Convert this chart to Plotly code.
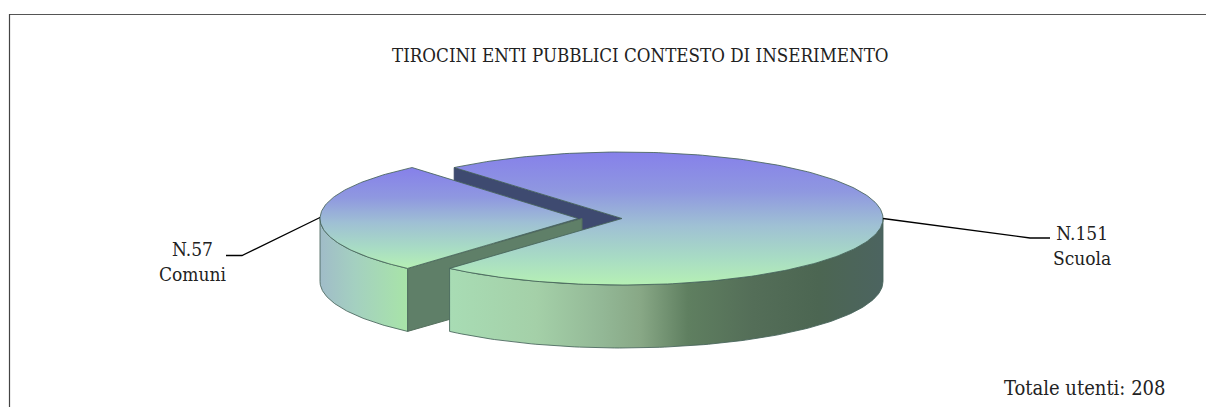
import numpy as np
import plotly.graph_objects as go

title = "TIROCINI ENTI PUBBLICI CONTESTO DI INSERIMENTO"
categories = ["Scuola", "Comuni"]
values = [151, 57]
labels = ["N.151<br>Scuola", "N.57<br>Comuni"]
total_note = "Totale utenti: 208"

W, H = 1206, 407
A, B, DEPTH = 261, 66.5, 63
BIG_C = (622, 218.5)
EXPLODE = 44
SMALL_C = (BIG_C[0] - EXPLODE, BIG_C[1])
START = 130.0  # parametric degrees where the large slice begins

big_sweep = 360 * values[0] / sum(values)
small_sweep = 360 * values[1] / sum(values)
big_a0, big_a1 = START, START - big_sweep
small_a0, small_a1 = START, START + small_sweep

TOP_SCALE = [[0, "#8680ea"], [0.3, "#8f98e0"], [0.55, "#9fc0d4"], [0.8, "#a8dcc4"], [1, "#b6f0b4"]]
BIG_SIDE = [[0, "#a8dcb4"], [0.2, "#a4d0a8"], [0.35, "#93b896"], [0.44, "#88a886"],
            [0.55, "#5f7f60"], [0.7, "#546e58"], [0.85, "#4c6652"], [1, "#4c6460"]]
SMALL_SIDE = [[0, "#a0bcc8"], [0.4, "#a4d0c0"], [1, "#a8e4a8"]]
EDGE = "rgba(70,100,90,0.85)"


def A_of(c):
    return A if c is BIG_C else A - 3


def arc(c, a0, a1, n=120):
    t = np.radians(np.linspace(a0, a1, n))
    return c[0] + A_of(c) * np.cos(t), c[1] - B * np.sin(t)


def poly(x, y, **kw):
    x = list(x) + [x[0]]
    y = list(y) + [y[0]]
    return go.Scatter(x=x, y=y, mode="lines", fill="toself", hoverinfo="skip", showlegend=False, **kw)


def grad(kind, scale, start, stop):
    return dict(type=kind, colorscale=scale, start=start, stop=stop)


def wall(c, a0, a1):
    x, y = arc(c, a0, a1)
    return np.r_[x, x[::-1]], np.r_[y, y[::-1] + DEPTH]


fig = go.Figure()

# Back inner wall of the large slice
sx, sy = arc(BIG_C, big_a0, big_a0, 1)
fig.add_trace(poly([sx[0], BIG_C[0], BIG_C[0], sx[0]],
                   [sy[0], BIG_C[1], BIG_C[1] + DEPTH, sy[0] + DEPTH],
                   fillcolor="#3e4a70", line=dict(color="#3a4668", width=1)))

# Small slice: radial wall, outer wall, top
ex, ey = arc(SMALL_C, small_a1, small_a1, 1)
fig.add_trace(poly([SMALL_C[0] + 4, ex[0], ex[0], SMALL_C[0] + 4],
                   [SMALL_C[1], ey[0], ey[0] + DEPTH, SMALL_C[1] + DEPTH],
                   fillcolor="#5f7f68", line=dict(color="#55705e", width=1)))
x, y = wall(SMALL_C, 180, small_a1)
fig.add_trace(poly(x, y, fillgradient=grad("horizontal", SMALL_SIDE, float(x.min()), float(x.max())),
                   line=dict(color=EDGE, width=1)))
x, y = arc(SMALL_C, small_a0, small_a1)
fig.add_trace(poly(np.r_[SMALL_C[0], x], np.r_[SMALL_C[1], y],
                   fillgradient=grad("vertical", TOP_SCALE, float(y.min()), float(y.max())),
                   line=dict(color=EDGE, width=1)))

# Large slice: outer wall, top
x, y = wall(BIG_C, big_a1 + 360, 360)
fig.add_trace(poly(x, y, fillgradient=grad("horizontal", BIG_SIDE, float(x.min()), float(x.max())),
                   line=dict(color=EDGE, width=1)))
x, y = arc(BIG_C, big_a0, big_a1, 240)
fig.add_trace(poly(np.r_[BIG_C[0], x], np.r_[BIG_C[1], y],
                   fillgradient=grad("vertical", TOP_SCALE, float(y.min()), float(y.max())),
                   line=dict(color=EDGE, width=1)))

# Leader lines
fig.add_trace(go.Scatter(x=[BIG_C[0] + A, 1030, 1050], y=[BIG_C[1], 238, 238], mode="lines",
                         line=dict(color="#000", width=1.3), hoverinfo="skip", showlegend=False))
fig.add_trace(go.Scatter(x=[SMALL_C[0] - A_of(SMALL_C), 242, 226], y=[SMALL_C[1] - 1, 255.5, 255.5], mode="lines",
                         line=dict(color="#000", width=1.3), hoverinfo="skip", showlegend=False))

FONT = "DejaVu Serif Condensed, DejaVu Serif, serif"
ann = [
    dict(x=640.5, y=55, text=title, font=dict(size=18.6, color="#222", family=FONT)),
    dict(x=1082, y=245.5, text=labels[0], font=dict(size=19, color="#222", family=FONT)),
    dict(x=193, y=261.5, text=labels[1], font=dict(size=19, color="#222", family=FONT)),
    dict(x=1084.5, y=388, text=total_note, font=dict(size=20, color="#222", family=FONT)),
]
for a in ann:
    a.update(xref="x", yref="y", showarrow=False, align="center", xanchor="center", yanchor="middle")

fig.update_layout(
    width=W, height=H, margin=dict(l=0, r=0, t=0, b=0),
    paper_bgcolor="#fff", plot_bgcolor="#fff",
    xaxis=dict(range=[0, W], visible=False, fixedrange=True),
    yaxis=dict(range=[H, 0], visible=False, fixedrange=True),
    annotations=ann, showlegend=False,
    shapes=[
        dict(type="line", xref="x", yref="y", x0=9, x1=W, y0=14.5, y1=14.5, line=dict(color="#555", width=1.2)),
        dict(type="line", xref="x", yref="y", x0=9.5, x1=9.5, y0=14, y1=H, line=dict(color="#444", width=1.2)),
    ],
)

fig.write_html("out.html", config=dict(displayModeBar=False),
               post_script="document.body.style.margin='0';document.body.style.overflow='hidden';")
